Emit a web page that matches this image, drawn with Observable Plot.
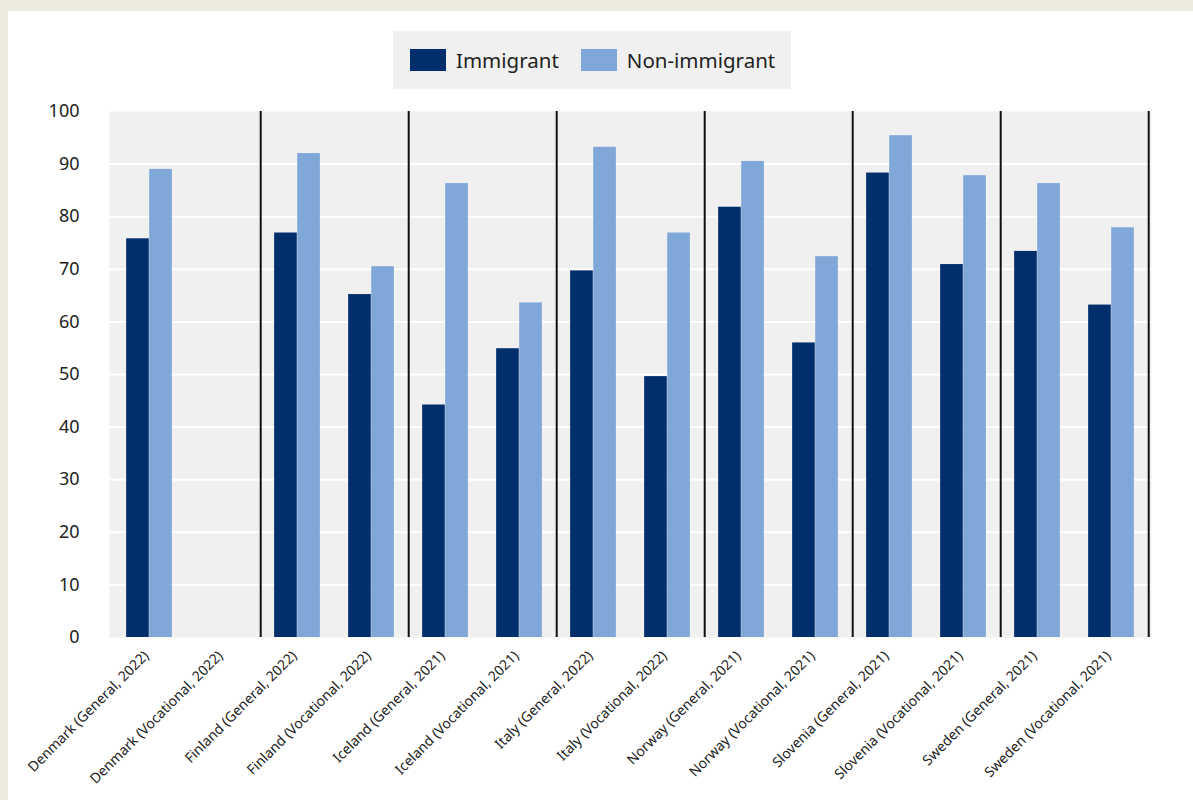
<!DOCTYPE html>
<html>
<head>
<meta charset="utf-8">
<script src="https://cdn.jsdelivr.net/npm/d3@7"></script>
<script src="https://cdn.jsdelivr.net/npm/@observablehq/plot@0.6"></script>
<style>
  html, body { margin: 0; padding: 0; }
  body { background: #edebe0; width: 1193px; height: 800px; overflow: hidden; font-family: "Noto Sans", "Open Sans", sans-serif; }
  #panel { position: absolute; left: 8px; top: 11px; width: 1185px; height: 789px; background: #ffffff; }
  #legend { position: absolute; left: 385px; top: 20px; width: 398px; height: 58px; background: #f0f0f0; display: flex; align-items: center; }
  .item { display: flex; align-items: center; font-size: 20.5px; color: #222; }
  .sw { width: 36px; height: 22px; margin-right: 10px; }
  #chart { position: absolute; left: 0; top: 89px; }
  #chart svg { overflow: visible; }
</style>
</head>
<body>
<div id="panel">
  <div id="legend"></div>
  <div id="chart"></div>
</div>
<script>
const categories = [
  "Denmark (General, 2022)", "Denmark (Vocational, 2022)",
  "Finland (General, 2022)", "Finland (Vocational, 2022)",
  "Iceland (General, 2021)", "Iceland (Vocational, 2021)",
  "Italy (General, 2022)", "Italy (Vocational, 2022)",
  "Norway (General, 2021)", "Norway (Vocational, 2021)",
  "Slovenia (General, 2021)", "Slovenia (Vocational, 2021)",
  "Sweden (General, 2021)", "Sweden (Vocational, 2021)"
];
const immigrant    = [75.8, null, 76.9, 65.2, 44.2, 54.9, 69.7, 49.6, 81.8, 56.0, 88.3, 70.9, 73.4, 63.2];
const nonImmigrant = [89.0, null, 92.0, 70.5, 86.3, 63.6, 93.2, 76.9, 90.5, 72.4, 95.4, 87.8, 86.3, 77.9];
const seriesNames = ["Immigrant", "Non-immigrant"];
const seriesColors = ["#002f6c", "#7fa8d9"];
const yTicks = [0, 10, 20, 30, 40, 50, 60, 70, 80, 90, 100];
const groupEnds = categories.filter((c, i) => i % 2 === 1);

const rows = [];
categories.forEach((c, i) => {
  if (immigrant[i] != null) rows.push({category: c, series: seriesNames[0], value: immigrant[i]});
  if (nonImmigrant[i] != null) rows.push({category: c, series: seriesNames[1], value: nonImmigrant[i]});
});

// legend
const legend = document.getElementById("legend");
seriesNames.forEach((s, i) => {
  const it = document.createElement("div");
  it.className = "item";
  it.style.marginLeft = i === 0 ? "17px" : "22px";
  it.innerHTML = `<span class="sw" style="background:${seriesColors[i]}"></span><span>${s}</span>`;
  legend.appendChild(it);
});

const W = 1185, H = 700;
const mL = 101, mR = 42, mT = 11, mB = 163;
const step = (W - mL - mR) / categories.length;
const barW = step * 0.31;
const outer = (step - 2 * barW) / 2;

const barOpts = (s) => ({
  x: "category", y: "value", fill: seriesColors[seriesNames.indexOf(s)],
  insetLeft: s === seriesNames[0] ? outer : outer + barW,
  insetRight: s === seriesNames[0] ? outer + barW : outer
});

const chart = Plot.plot({
  width: W, height: H,
  marginLeft: mL, marginRight: mR, marginTop: mT, marginBottom: mB,
  style: {fontFamily: "'Noto Sans', 'Open Sans', sans-serif", color: "#222", background: "transparent", overflow: "visible"},
  x: {domain: categories, padding: 0, label: null},
  y: {domain: [0, 100], label: null},
  marks: [
    Plot.frame({fill: "#f0f0f0", stroke: null}),
    Plot.ruleY(yTicks.filter(d => d > 0 && d < 100), {stroke: "#ffffff", strokeWidth: 2}),
    Plot.barY(rows.filter(d => d.series === seriesNames[0]), barOpts(seriesNames[0])),
    Plot.barY(rows.filter(d => d.series === seriesNames[1]), barOpts(seriesNames[1])),
    Plot.ruleX(groupEnds, {x: d => d, dx: step / 2, stroke: "#111", strokeWidth: 2}),
    Plot.axisY({ticks: yTicks, tickSize: 0, tickPadding: 30, fontSize: 18, label: null}),
    Plot.axisX({tickSize: 0, tickRotate: -45, tickPadding: 16, fontSize: 14, label: null, dx: -3})
  ]
});
document.getElementById("chart").appendChild(chart);
</script>
</body>
</html>
